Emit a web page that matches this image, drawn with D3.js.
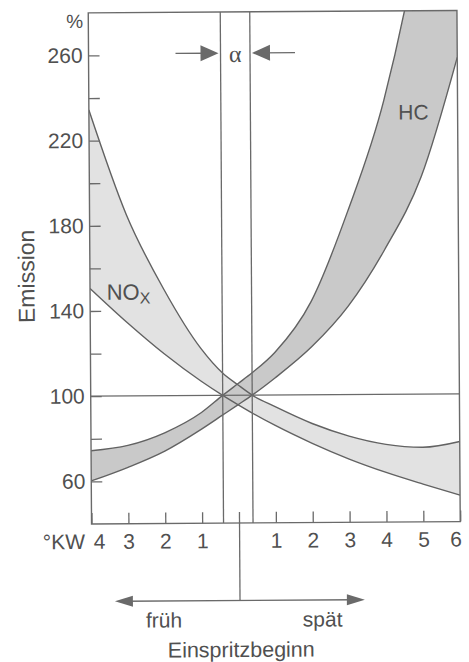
<!DOCTYPE html>
<html>
<head>
<meta charset="utf-8">
<script src="https://cdn.jsdelivr.net/npm/d3@7"></script>
<style>
    body { margin: 0; background: #fff; }
    text { font-family: "Liberation Sans", Arial, sans-serif; fill: #505050; }
</style>
</head>
<body>
<svg width="469" height="662"></svg>
<script>
// crank angle in °KW around the nominal start of injection (negative = früh)
const crank = [-4, -3, -2, -1, -0.42, 0, 0.38, 1, 2, 3, 4, 5, 6];

// emission bands in %
const hcUpper = [74.4, 76.8, 82.6, 92, 100, 105.5, 110.5, 120, 144, 186, 238, 318, 440];
const hcLower = [60.2, 66.5, 74, 84.2, 90.8, 95.6, 100, 108, 122.5, 141.5, 168, 202, 258];
const noxUpper = [234.4, 185, 150, 122, 110.5, 104.8, 100, 94.5, 86.5, 80.5, 76.5, 75, 77.6];
const noxLower = [150.6, 134.5, 119.7, 106.7, 100, 95.5, 91.6, 85.7, 77.2, 69.7, 63.3, 57.7, 52.4];

const alphaLimits = [-0.42, 0.38];
const refLevel = 100;

const yMajor = [60, 100, 140, 180, 220, 260];
const yMinor = [80, 120, 160, 200, 240];
const xTicks = [-4, -3, -2, -1, 0, 1, 2, 3, 4, 5, 6];

const lineColor = "#6a6a6a";
const arrowY = 600.5, topArrowY = 53;

const svg = d3.select("svg");
// the scanned figure sits slightly tilted
const g = svg.append("g").attr("transform", "rotate(-0.37,240,330)");

const x = d3.scaleLinear().domain([-4, 6]).range([90.3, 459]);
const y = d3.scaleLinear().domain([40, 280]).range([523, 11.9]);

g.append("clipPath").attr("id", "plot")
    .append("rect")
    .attr("x", x(-4)).attr("y", y(280))
    .attr("width", x(6) - x(-4)).attr("height", y(40) - y(280));

const band = (lo, hi) => d3.area()
    .x((d, i) => x(crank[i]))
    .y0((d, i) => y(lo[i]))
    .y1((d, i) => y(hi[i]))
    .curve(d3.curveMonotoneX)(crank);

const edge = vals => d3.line()
    .x((d, i) => x(crank[i]))
    .y((d, i) => y(vals[i]))
    .curve(d3.curveMonotoneX)(crank);

const plot = g.append("g").attr("clip-path", "url(#plot)");

plot.append("path").attr("d", band(noxLower, noxUpper)).attr("fill", "#e2e2e2");
plot.append("path").attr("d", band(hcLower, hcUpper)).attr("fill", "#c9c9c9");

[noxUpper, noxLower, hcUpper, hcLower].forEach(vals => {
    plot.append("path")
        .attr("d", edge(vals))
        .attr("fill", "none")
        .attr("stroke", "#626262")
        .attr("stroke-width", 1.4);
});

// 100 % reference line
g.append("line")
    .attr("x1", x(-4)).attr("x2", x(6))
    .attr("y1", y(refLevel)).attr("y2", y(refLevel))
    .attr("stroke", lineColor).attr("stroke-width", 1.3);

// alpha window
alphaLimits.forEach(a => {
    g.append("line")
        .attr("x1", x(a)).attr("x2", x(a))
        .attr("y1", y(280)).attr("y2", y(40))
        .attr("stroke", lineColor).attr("stroke-width", 1.3);
});

// frame
g.append("rect")
    .attr("x", x(-4)).attr("y", y(280))
    .attr("width", x(6) - x(-4)).attr("height", y(40) - y(280))
    .attr("fill", "none").attr("stroke", lineColor).attr("stroke-width", 1.4);

// y axis
const yAxis = g.append("g")
    .attr("transform", "translate(" + x(-4) + ",0)")
    .call(d3.axisLeft(y).tickValues(yMajor).tickSizeInner(-11).tickSizeOuter(0).tickPadding(6));
yAxis.append("g")
    .call(d3.axisLeft(y).tickValues(yMinor).tickSizeInner(-11).tickSizeOuter(0).tickFormat(""));
yAxis.attr("font-size", 21).attr("font-family", null).attr("color", lineColor);
yAxis.selectAll(".domain").remove();
yAxis.selectAll("line").attr("stroke-width", 1.3);

// x axis
const xAxis = g.append("g")
    .attr("transform", "translate(0," + y(40) + ")")
    .call(d3.axisBottom(x).tickValues(xTicks).tickSizeInner(-11).tickSizeOuter(0).tickPadding(10)
        .tickFormat(d => d === 0 ? "" : Math.abs(d)));
xAxis.attr("font-size", 21).attr("font-family", null).attr("color", lineColor);
xAxis.selectAll(".domain").remove();
xAxis.selectAll("line").attr("stroke-width", 1.3);
xAxis.selectAll(".tick text").filter(d => d === -4).attr("text-anchor", "start").attr("x", 1.5);
xAxis.selectAll(".tick text").filter(d => d === 6).attr("text-anchor", "end").attr("x", 1);
xAxis.selectAll(".tick line").filter(d => d === 0)
    .attr("y1", -11).attr("y2", arrowY - y(40));

g.append("text")
    .attr("x", x(-4) - 6.7).attr("y", y(40) + 10).attr("dy", "0.71em")
    .attr("text-anchor", "end").attr("font-size", 21)
    .text("°KW");

// direction arrow under the axis
const head = (tipX, tipY, dir, len, half) =>
    "M" + tipX + "," + tipY +
    "L" + (tipX - dir * len) + "," + (tipY - half) +
    "L" + (tipX - dir * len) + "," + (tipY + half) + "Z";

g.append("line")
    .attr("x1", x(-3.38) + 10).attr("x2", x(3.4) - 10)
    .attr("y1", arrowY).attr("y2", arrowY)
    .attr("stroke", lineColor).attr("stroke-width", 1.4);
g.append("path").attr("d", head(x(-3.38), arrowY, -1, 18, 5.5)).attr("fill", lineColor);
g.append("path").attr("d", head(x(3.4), arrowY, 1, 18, 5.5)).attr("fill", lineColor);

g.append("text").attr("x", x(-2.05)).attr("y", 627).attr("text-anchor", "middle")
    .attr("font-size", 21).text("früh");
g.append("text").attr("x", x(2.25)).attr("y", 627).attr("text-anchor", "middle")
    .attr("font-size", 21).text("spät");
g.append("text").attr("x", x(0) + 1.4).attr("y", 657).attr("text-anchor", "middle")
    .attr("font-size", 21.5).text("Einspritzbeginn");

// alpha arrows
const aL = x(alphaLimits[0]), aR = x(alphaLimits[1]);
g.append("line").attr("x1", aL - 45).attr("x2", aL - 12)
    .attr("y1", topArrowY).attr("y2", topArrowY)
    .attr("stroke", lineColor).attr("stroke-width", 1.4);
g.append("path").attr("d", head(aL - 2, topArrowY, 1, 18, 8)).attr("fill", lineColor);
g.append("line").attr("x1", aR + 12).attr("x2", aR + 45)
    .attr("y1", topArrowY).attr("y2", topArrowY)
    .attr("stroke", lineColor).attr("stroke-width", 1.4);
g.append("path").attr("d", head(aR + 2, topArrowY, -1, 18, 8)).attr("fill", lineColor);
g.append("text")
    .attr("x", (aL + aR) / 2).attr("y", 62).attr("text-anchor", "middle")
    .attr("font-size", 24).style("font-family", "'Liberation Serif', serif")
    .text("α");

// series labels
g.append("text").attr("x", x(4.8)).attr("y", y(229)).attr("text-anchor", "middle")
    .attr("font-size", 21).text("HC");
const nox = g.append("text").attr("x", x(-3.55)).attr("y", y(145.2)).attr("font-size", 22);
nox.append("tspan").text("NO");
nox.append("tspan").attr("font-size", 16).attr("dy", 4).text("X");

// axis titles
g.append("text").attr("x", 85).attr("y", 27).attr("text-anchor", "end")
    .attr("font-size", 19).text("%");
g.append("text")
    .attr("transform", "translate(34.7,275) rotate(-90)")
    .attr("text-anchor", "middle").attr("font-size", 23)
    .text("Emission");
</script>
</body>
</html>
